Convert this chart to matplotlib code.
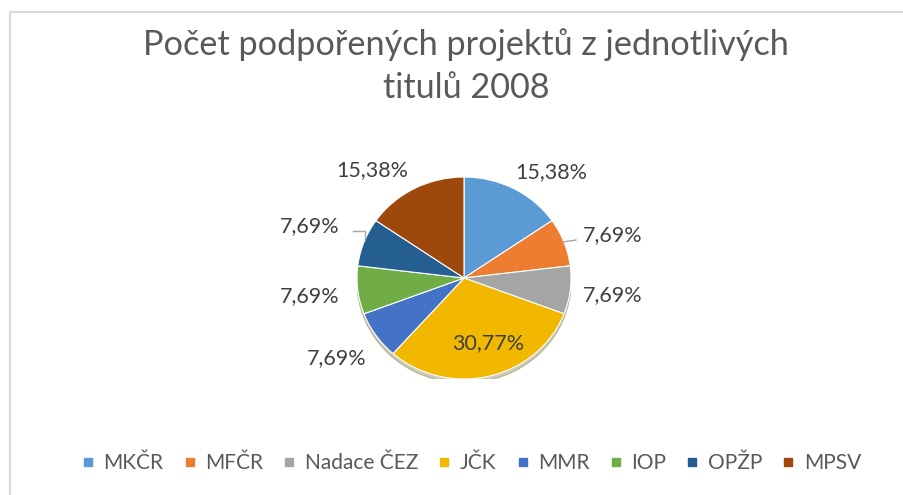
import matplotlib.pyplot as plt
from matplotlib.lines import Line2D
from matplotlib.patches import Ellipse

plt.rcParams['font.family'] = ['Lato', 'DejaVu Sans']

# Data
labels = ["MKČR", "MFČR", "Nadace ČEZ", "JČK", "MMR", "IOP", "OPŽP", "MPSV"]
counts = [2, 1, 1, 4, 1, 1, 1, 2]
pct_text = ["15,38%", "7,69%", "7,69%", "30,77%", "7,69%", "7,69%", "7,69%", "15,38%"]
colors = ["#5B9BD5", "#ED7D31", "#A5A5A5", "#F2B800", "#4472C4", "#70AD47", "#255E91", "#9E480E"]

# label positions in pixels (x, y from top)
label_pos = [(551, 172), (613, 235), (613, 295), (488, 343),
             (337, 358), (310, 296), (310, 226), (372, 170)]

W, H = 904, 495
fig = plt.figure(figsize=(W / 100, H / 100), dpi=100)

# Pie axes (slightly elliptical, like the Excel original)
cx, cy, rx, ry = 464, 278, 107, 101
ax = fig.add_axes([(cx - rx) / W, (H - cy - ry) / H, 2 * rx / W, 2 * ry / H])
ax.add_patch(Ellipse((0.0, -0.04), 2.0, 2.0, color="#7a6a3a", alpha=0.35, zorder=0))
wedges, _ = ax.pie(counts, colors=colors, startangle=90, counterclock=False,
                   wedgeprops=dict(edgecolor="white", linewidth=0.8))
ax.set_aspect("auto")
ax.set_xlim(-1, 1)
ax.set_ylim(-1, 1)

# Overlay axes in pixel coordinates for title, labels, border
ov = fig.add_axes([0, 0, 1, 1], facecolor="none")
ov.set_xlim(0, W)
ov.set_ylim(H, 0)
ov.axis("off")

ov.plot([10, 10, W + 5], [H + 5, 12, 12], color="#d9d9d9", lw=1.5)

ov.text(466, 45, "Počet podpořených projektů z jednotlivých", ha="center", va="center",
        fontsize=24.7, color="#595959")
ov.text(466, 88, "titulů 2008", ha="center", va="center", fontsize=24.7, color="#595959")

for (x, y), t in zip(label_pos, pct_text):
    ov.text(x, y, t, ha="center", va="center", fontsize=15.5, color="#404040")

# leader lines
ov.plot([563, 576], [242, 240], color="#a6a6a6", lw=1)
ov.plot([353, 365, 365], [231, 231, 240], color="#a6a6a6", lw=1)

# Legend
handles = [Line2D([], [], marker="s", linestyle="none", markersize=6,
                  markerfacecolor=c, markeredgecolor=c) for c in colors]
fig.legend(handles, labels, loc="center", bbox_to_anchor=(471 / W, 1 - 463 / H),
           ncol=8, frameon=False, fontsize=15, labelcolor="#595959",
           handlelength=0.7, handletextpad=0.4, columnspacing=0.9)

fig.savefig("out.png", dpi=100)
